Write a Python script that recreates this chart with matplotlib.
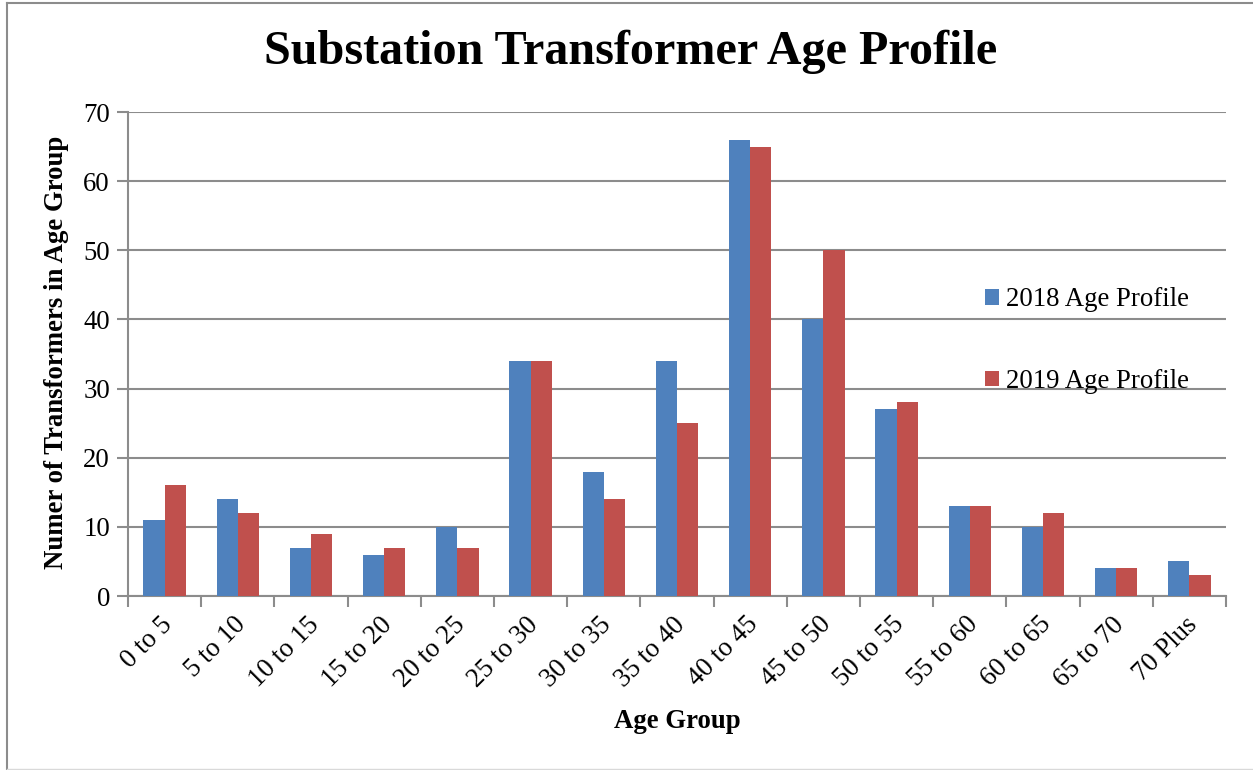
import matplotlib
matplotlib.use("Agg")
import matplotlib.pyplot as plt
from matplotlib.lines import Line2D
from matplotlib.transforms import ScaledTranslation
import numpy as np

categories = ["0 to 5", "5 to 10", "10 to 15", "15 to 20", "20 to 25", "25 to 30",
              "30 to 35", "35 to 40", "40 to 45", "45 to 50", "50 to 55", "55 to 60",
              "60 to 65", "65 to 70", "70 Plus"]
profile_2018 = [11, 14, 7, 6, 10, 34, 18, 34, 66, 40, 27, 13, 10, 4, 5]
profile_2019 = [16, 12, 9, 7, 7, 34, 14, 25, 65, 50, 28, 13, 12, 4, 3]
series_labels = ["2018 Age Profile", "2019 Age Profile"]
y_ticks = [0, 10, 20, 30, 40, 50, 60, 70]

plt.rcParams["font.family"] = ["Liberation Serif", "DejaVu Serif"]

W, H = 1253, 770
FS = 19.3
fig = plt.figure(figsize=(W / 100, H / 100), dpi=100)
ax = fig.add_axes([128 / W, 1 - 596 / H, (1226 - 128) / W, (596 - 112) / H])

grey = "#8c8c8c"
x = np.arange(len(categories))
bw = 0.29
ax.bar(x - bw / 2, profile_2018, bw, color="#4F81BD", label=series_labels[0], zorder=3)
ax.bar(x + bw / 2, profile_2019, bw, color="#C0504D", label=series_labels[1], zorder=3)

ax.set_xlim(-0.5, len(categories) - 0.5)
ax.set_ylim(0, 70)
ax.set_yticks(y_ticks)
ax.yaxis.grid(True, color=grey, linewidth=1.5, zorder=0)
ax.set_axisbelow(True)

for s in ["top", "right"]:
    ax.spines[s].set_visible(False)
for s in ["left", "bottom"]:
    ax.spines[s].set_color(grey)
    ax.spines[s].set_linewidth(1.5)

ax.set_xticks(np.arange(-0.5, len(categories) + 0.5, 1.0))
ax.set_xticklabels([])
ax.set_xticks(x, minor=True)
ax.set_xticklabels(categories, minor=True, rotation=45, ha="right", va="center",
                   rotation_mode="anchor", fontsize=FS)
ax.tick_params(axis="x", which="major", length=8, width=1.5, color=grey, direction="out")
ax.tick_params(axis="x", which="minor", length=0, pad=18)
ax.tick_params(axis="y", length=8, width=1.5, color=grey, direction="out",
               labelsize=FS, pad=5)
shift = ScaledTranslation(4 / 100, 0, fig.dpi_scale_trans)
for lbl in ax.get_xticklabels(minor=True):
    lbl.set_transform(lbl.get_transform() + shift)

ax.set_xlabel("Age Group", fontsize=FS, fontweight="bold")
ax.xaxis.set_label_coords(677 / W, 1 - 722 / H, transform=fig.transFigure)
ax.xaxis.label.set_va("center")
ax.set_ylabel("Numer of Transformers in Age Group", fontsize=FS, fontweight="bold")
ax.yaxis.set_label_coords(57 / W, 1 - 352 / H, transform=fig.transFigure)
ax.yaxis.label.set_va("center")

fig.text(631 / W, 1 - 52 / H, "Substation Transformer Age Profile", ha="center",
         va="center", fontsize=34.7, fontweight="bold")

leg = ax.legend(loc="upper left", bbox_to_anchor=(972 / W, 1 - 274 / H),
                bbox_transform=fig.transFigure, frameon=False, fontsize=FS,
                handlelength=0.5, handleheight=0.5, handletextpad=0.25,
                labelspacing=2.1, borderpad=0)

# Figure frame
fig.add_artist(Line2D([7 / W, 7 / W], [1 - 769 / H, 1 - 3 / H], color=grey,
                      linewidth=1.5, transform=fig.transFigure))
fig.add_artist(Line2D([7 / W, 1.0], [1 - 3 / H, 1 - 3 / H], color=grey,
                      linewidth=1.5, transform=fig.transFigure))
fig.add_artist(Line2D([7 / W, 1.0], [1 - 769 / H, 1 - 769 / H], color="#d9d9d9",
                      linewidth=1.0, transform=fig.transFigure))

fig.savefig("out.png", dpi=100)
